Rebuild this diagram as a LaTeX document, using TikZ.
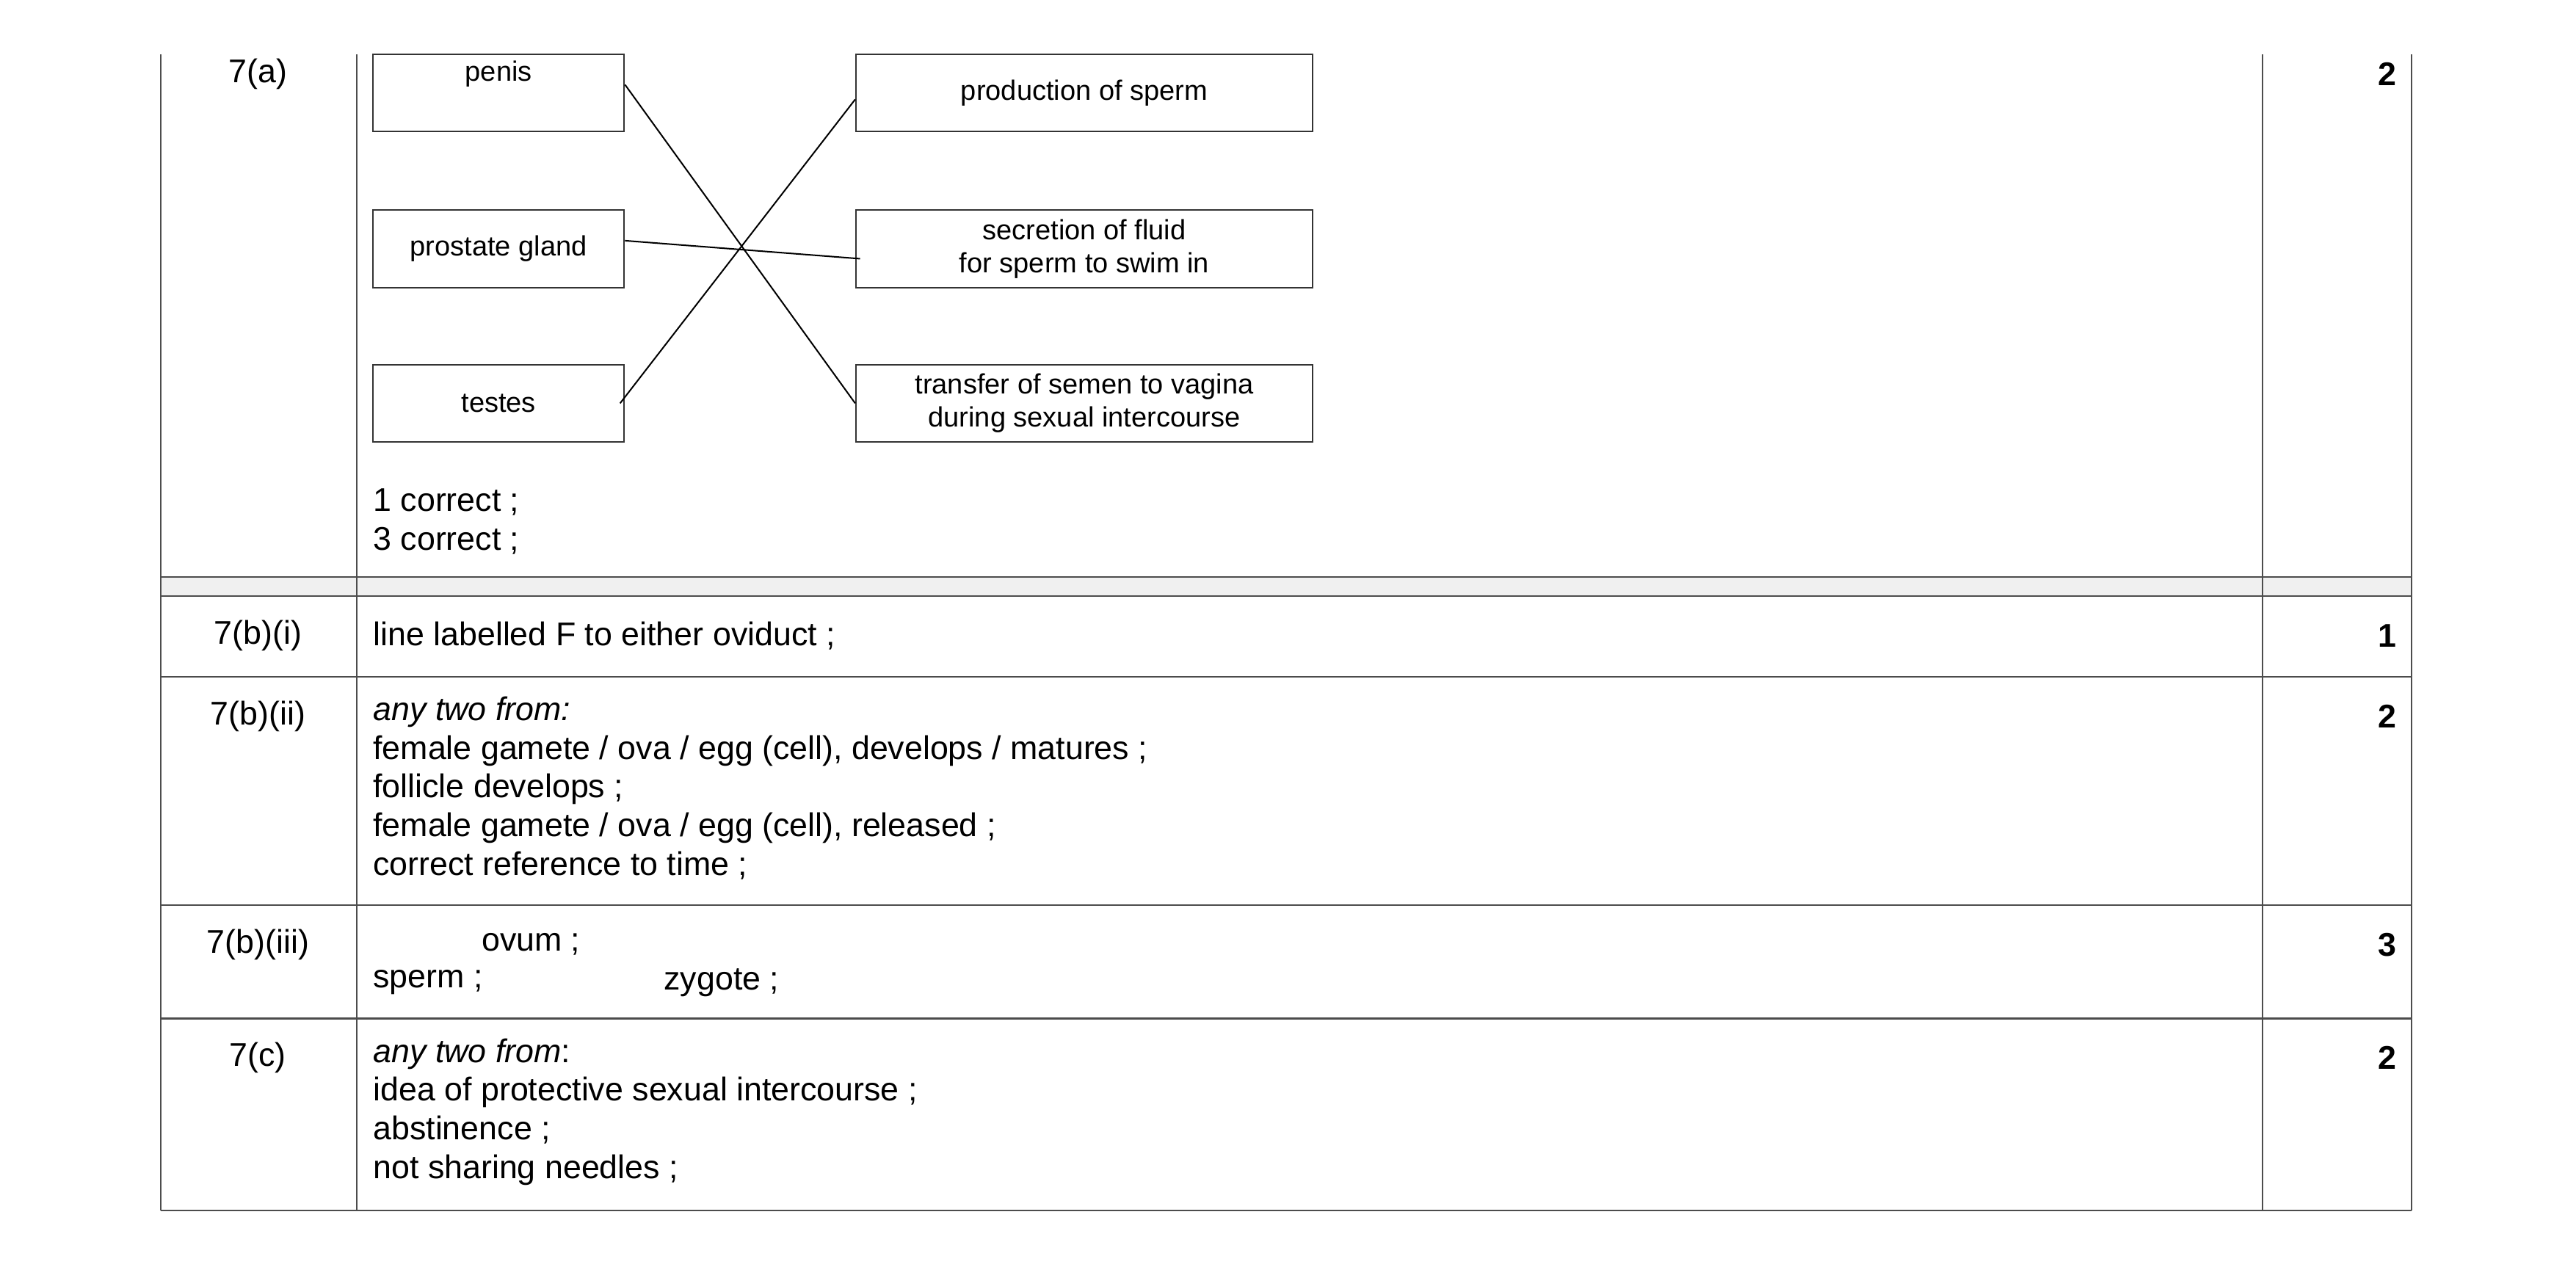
\documentclass[tikz,border=0pt]{standalone}
\usepackage{fontspec}
\setmainfont{Liberation Sans}
\usetikzlibrary{positioning}
\tikzset{
  box/.style={draw=black!80, line width=0.9pt, minimum width=153, minimum height=47, inner sep=0, font=\fontsize{17}{20}\selectfont, align=center},
  wbox/.style={box, minimum width=278},
  txt/.style={anchor=west, inner sep=0, align=left, font=\fontsize{20}{23.5}\selectfont},
  qno/.style={inner sep=0, font=\fontsize{20}{23.5}\selectfont},
  marks/.style={inner sep=0, font=\fontsize{20}{23.5}\selectfont\bfseries},
  rule/.style={draw=black!70, line width=0.9pt}
}
\begin{document}
\begin{tikzpicture}[x=1pt,y=-1pt]
\useasboundingbox (0,0) rectangle (1568,771);

% grid of the table
\fill[black!6] (98,351) rectangle (1468,363);
\draw[rule] (98,351) -- (1468,351);
\draw[rule] (98,363) -- (1468,363);
\foreach \yy in {412,551,620,737}
  \draw[rule] (98,\yy) -- (1468,\yy);
\foreach \xx in {98,217,1377,1468}
  \draw[rule] (\xx,33) -- (\xx,737);

% 7(a)
\node[qno] (qa) at (157,45) {7(a)};
\node[marks] (ma) at (1453,45) {2};
\node[box] (penis) at (303.5,56.5) {};
\node[qno, font=\fontsize{17}{20}\selectfont] (penistxt) at (303.5,45) {penis};
\node[box] (prostate) at (303.5,151.5) {prostate gland};
\node[box] (testes) at (303.5,245.5) {testes};
\node[wbox] (sperm) at (660,56.5) {production of sperm};
\node[wbox] (fluid) at (660,151.5) {secretion of fluid\\for sperm to swim in};
\node[wbox] (transfer) at (660,245.5) {transfer of semen to vagina\\during sexual intercourse};
\draw[line width=0.9pt] (penis.north east) ++(0,19) -- (transfer.west);
\draw[line width=0.9pt] (prostate.east) ++(0,-5) -- ([xshift=3,yshift=-6]fluid.west);
\draw[line width=0.9pt] (testes.east) ++(-3,0) -- ([yshift=-4]sperm.west);
\node[txt] (acorr) at (227,317.5) {1 correct ;\\3 correct ;};

% 7(b)(i)
\node[qno] (qbi) at (157,387) {7(b)(i)};
\node[marks] (mbi) at (1453,387) {1};
\node[txt] (tbi) at (227,387) {line labelled F to either oviduct ;};

% 7(b)(ii)
\node[qno] (qbii) at (157,436) {7(b)(ii)};
\node[marks] (mbii) at (1453,436) {2};
\node[txt, anchor=north west] (tbii) at (227,424) {\textit{any two from:}\\female gamete / ova / egg (cell), develops / matures ;\\follicle develops ;\\female gamete / ova / egg (cell), released ;\\correct reference to time ;};

% 7(b)(iii)
\node[qno] (qbiii) at (157,575) {7(b)(iii)};
\node[marks] (mbiii) at (1453,575) {3};
\node[txt] (ovum) at (293,575) {ovum ;};
\node[txt] (spermans) at (227,598) {sperm ;};
\node[txt] (zygote) at (404,598) {zygote ;};

% 7(c)
\node[qno] (qc) at (157,644) {7(c)};
\node[marks] (mc) at (1453,644) {2};
\node[txt, anchor=north west] (tc) at (227,632) {\textit{any two from}:\\idea of protective sexual intercourse ;\\abstinence ;\\not sharing needles ;};
\end{tikzpicture}
\end{document}
